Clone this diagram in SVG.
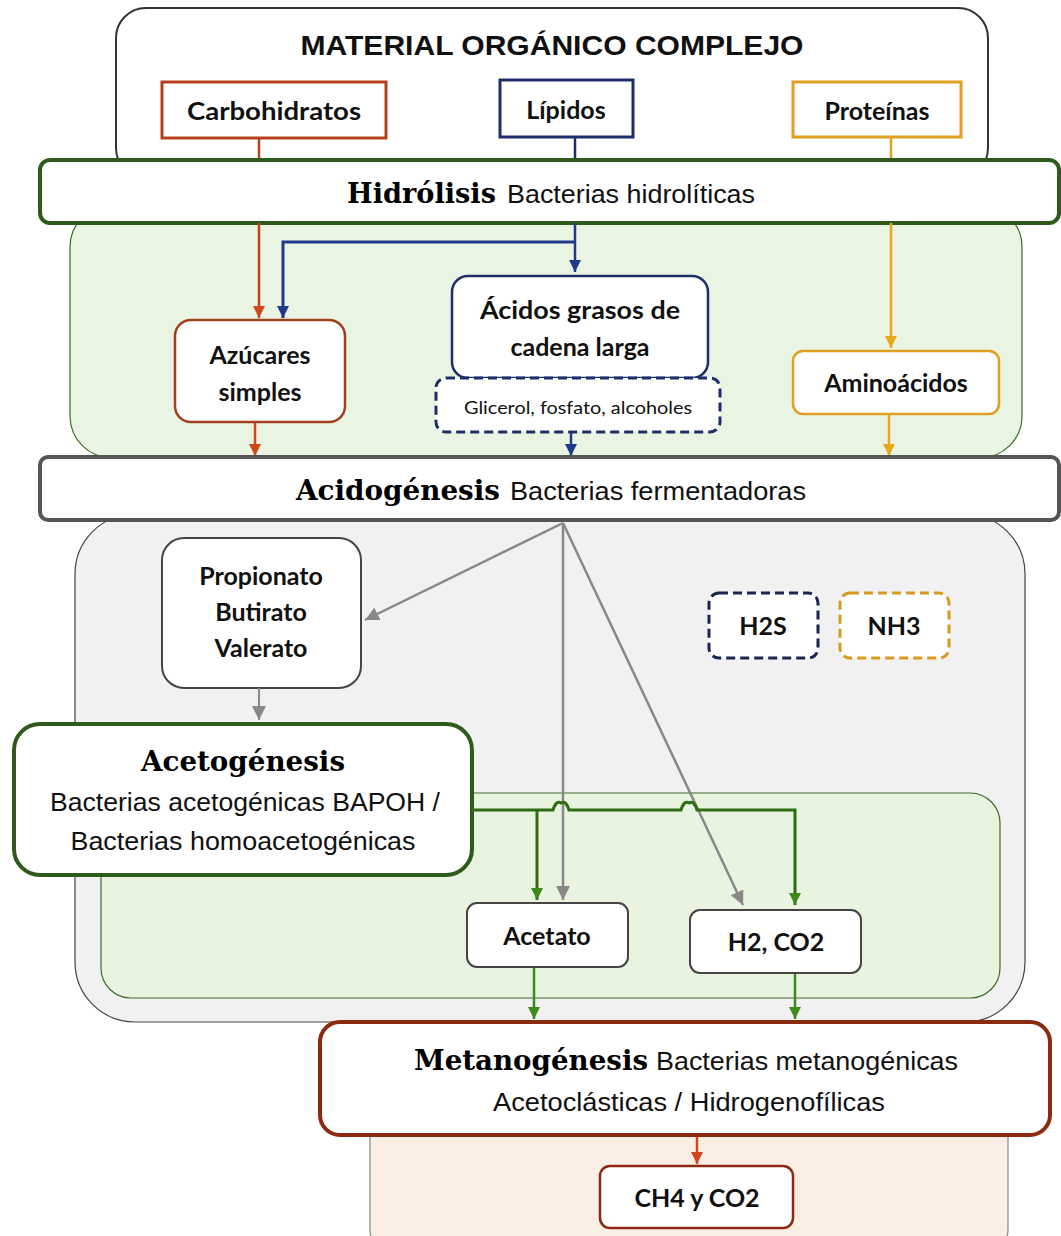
<svg xmlns="http://www.w3.org/2000/svg" width="1061" height="1236" viewBox="0 0 1061 1236">
<style>
.t{font-family:Lato,"Liberation Sans",sans-serif;font-weight:bold;fill:#111;text-anchor:middle}
.c{font-family:"Liberation Sans",sans-serif;fill:#111}
.b{font-family:"DejaVu Serif","Liberation Serif",serif;font-weight:bold;fill:#000}
.box{fill:#fff}
.ln{fill:none;stroke-width:2.5}
</style>
<defs>
<marker id="aR" markerUnits="userSpaceOnUse" markerWidth="14" markerHeight="14" refX="12" refY="6" orient="auto"><path d="M0,0 L12,6 L0,12 z" fill="#d0481a"/></marker>
<marker id="aN" markerUnits="userSpaceOnUse" markerWidth="14" markerHeight="14" refX="12" refY="6" orient="auto"><path d="M0,0 L12,6 L0,12 z" fill="#1f3a8a"/></marker>
<marker id="aO" markerUnits="userSpaceOnUse" markerWidth="14" markerHeight="14" refX="12" refY="6" orient="auto"><path d="M0,0 L12,6 L0,12 z" fill="#e8a818"/></marker>
<marker id="aG" markerUnits="userSpaceOnUse" markerWidth="16" markerHeight="16" refX="14" refY="7" orient="auto"><path d="M0,0 L14,7 L0,14 z" fill="#888"/></marker>
<marker id="aV" markerUnits="userSpaceOnUse" markerWidth="14" markerHeight="14" refX="12" refY="6" orient="auto"><path d="M0,0 L12,6 L0,12 z" fill="#3c8a1c"/></marker>
</defs>

<g id="region-hidrolisis">
<rect x="70" y="205" width="952" height="253" rx="42" fill="#eaf4e2" stroke="#3f6b2a" stroke-width="1.2"/>
</g>
<g id="region-acidogenesis">
<rect x="75" y="514" width="950" height="508" rx="60" fill="#f1f1f1" stroke="#444" stroke-width="1.2"/>
</g>
<g id="region-acetogenesis">
<rect x="101" y="793" width="899" height="205" rx="30" fill="#e9f4e0" stroke="#3f6b2a" stroke-width="1.2"/>
</g>
<g id="region-metanogenesis">
<rect x="370" y="1100" width="638" height="150" rx="20" fill="#fbeee4" stroke="#888" stroke-width="1.2"/>
</g>

<g id="material">
<rect x="116" y="8" width="872" height="170" rx="30" class="box" stroke="#333" stroke-width="2"/>
<text x="552" y="55" class="c" font-size="28" font-weight="bold" text-anchor="middle" textLength="503" lengthAdjust="spacingAndGlyphs">MATERIAL ORGÁNICO COMPLEJO</text>
</g>

<g id="connectors">
<line x1="259" y1="138" x2="259" y2="162" stroke="#b5401c" class="ln"/>
<line x1="575" y1="137" x2="575" y2="162" stroke="#1f2e6b" class="ln"/>
<line x1="891" y1="138" x2="891" y2="162" stroke="#e0a020" class="ln"/>
</g>

<g id="carbohidratos">
<rect x="162" y="82" width="224" height="56" class="box" stroke="#b5401c" stroke-width="3"/>
<text x="274" y="120" class="t" font-size="25" textLength="174" lengthAdjust="spacingAndGlyphs">Carbohidratos</text>
</g>
<g id="lipidos">
<rect x="500" y="80" width="133" height="57" class="box" stroke="#1f2e6b" stroke-width="3"/>
<text x="566" y="119" class="t" font-size="25">Lípidos</text>
</g>
<g id="proteinas">
<rect x="793" y="82" width="168" height="55" class="box" stroke="#e0a020" stroke-width="3"/>
<text x="877" y="120" class="t" font-size="25">Proteínas</text>
</g>

<g id="hidrolisis">
<rect x="40" y="160" width="1019" height="63" rx="10" class="box" stroke="#2e5a1c" stroke-width="4"/>
<text x="347" y="203" class="b" font-size="27" textLength="149" lengthAdjust="spacingAndGlyphs">Hidrólisis</text>
<text x="507" y="203" class="c" font-size="26" textLength="248" lengthAdjust="spacingAndGlyphs">Bacterias hidrolíticas</text>
</g>

<g id="connectors-2">
<line x1="259" y1="223" x2="259" y2="318" stroke="#c0401a" class="ln" marker-end="url(#aR)"/>
<line x1="575" y1="223" x2="575" y2="272" stroke="#1f3a8a" class="ln" marker-end="url(#aN)"/>
<polyline points="575,242 283,242 283,318" stroke="#1f3a8a" stroke-width="3" fill="none" marker-end="url(#aN)"/>
<line x1="891" y1="223" x2="891" y2="348" stroke="#e8a818" class="ln" marker-end="url(#aO)"/>
<line x1="255" y1="422" x2="255" y2="456" stroke="#d0481a" class="ln" marker-end="url(#aR)"/>
<line x1="571" y1="432" x2="571" y2="456" stroke="#1f3a8a" class="ln" marker-end="url(#aN)"/>
<line x1="889" y1="414" x2="889" y2="456" stroke="#e8a818" class="ln" marker-end="url(#aO)"/>
</g>

<g id="azucares">
<rect x="175" y="320" width="170" height="102" rx="16" class="box" stroke="#a0401c" stroke-width="2.5"/>
<text x="260" y="364" class="t" font-size="25">Azúcares</text>
<text x="260" y="401" class="t" font-size="25">simples</text>
</g>
<g id="acidos-grasos">
<rect x="452" y="276" width="256" height="102" rx="16" class="box" stroke="#1f2e6b" stroke-width="2.5"/>
<text x="580" y="319" class="t" font-size="25" textLength="200" lengthAdjust="spacingAndGlyphs">Ácidos grasos de</text>
<text x="580" y="356" class="t" font-size="25">cadena larga</text>
</g>
<g id="glicerol">
<rect x="436" y="378" width="284" height="54" rx="10" class="box" stroke="#1f2e6b" stroke-width="3" stroke-dasharray="9,5"/>
<text x="578" y="414" class="t" font-size="17" style="font-weight:normal" textLength="228" lengthAdjust="spacingAndGlyphs">Glicerol, fosfato, alcoholes</text>
</g>
<g id="aminoacidos">
<rect x="793" y="351" width="206" height="63" rx="10" class="box" stroke="#e0a020" stroke-width="2.5"/>
<text x="896" y="392" class="t" font-size="25">Aminoácidos</text>
</g>

<g id="acidogenesis">
<rect x="40" y="457" width="1019" height="63" rx="8" class="box" stroke="#555" stroke-width="4"/>
<text x="296" y="500" class="b" font-size="27" textLength="204" lengthAdjust="spacingAndGlyphs">Acidogénesis</text>
<text x="510" y="500" class="c" font-size="26" textLength="296" lengthAdjust="spacingAndGlyphs">Bacterias fermentadoras</text>
</g>

<g id="propionato">
<rect x="162" y="538" width="199" height="150" rx="22" class="box" stroke="#444" stroke-width="2"/>
<text x="261" y="585" class="t" font-size="25">Propionato</text>
<text x="261" y="621" class="t" font-size="25">Butirato</text>
<text x="261" y="657" class="t" font-size="25">Valerato</text>
</g>
<g id="h2s">
<rect x="709" y="593" width="109" height="65" rx="10" class="box" stroke="#1a2550" stroke-width="3" stroke-dasharray="9,5"/>
<text x="763" y="635" class="t" font-size="25">H2S</text>
</g>
<g id="nh3">
<rect x="840" y="593" width="109" height="65" rx="10" class="box" stroke="#d89a20" stroke-width="3" stroke-dasharray="9,5"/>
<text x="894" y="635" class="t" font-size="25">NH3</text>
</g>

<g id="acetogenesis">
<rect x="14" y="724" width="458" height="151" rx="26" class="box" stroke="#2e5a1c" stroke-width="4"/>
<text x="243" y="771" class="b" font-size="27" text-anchor="middle" textLength="204" lengthAdjust="spacingAndGlyphs">Acetogénesis</text>
<text x="245" y="811" class="c" font-size="26" text-anchor="middle" textLength="390" lengthAdjust="spacingAndGlyphs">Bacterias acetogénicas BAPOH /</text>
<text x="243" y="850" class="c" font-size="26" text-anchor="middle" textLength="345" lengthAdjust="spacingAndGlyphs">Bacterias homoacetogénicas</text>
</g>

<g id="connectors-3">
<line x1="259" y1="688" x2="259" y2="720" stroke="#888" stroke-width="2" marker-end="url(#aG)"/>
<line x1="563" y1="523" x2="365" y2="620" stroke="#888" stroke-width="2.5" marker-end="url(#aG)"/>
<line x1="563" y1="523" x2="563" y2="900" stroke="#888" stroke-width="2.5" marker-end="url(#aG)"/>
<line x1="563" y1="523" x2="743" y2="905" stroke="#888" stroke-width="2.5" marker-end="url(#aG)"/>
<path d="M472,810 L553,810 Q556,800 561,803 Q566,800 569,810 L681,810 Q684,800 689,803 Q694,800 697,810 L795,810 L795,905" stroke="#2e6b12" stroke-width="3" fill="none" marker-end="url(#aV)"/>
<line x1="537" y1="810" x2="537" y2="900" stroke="#2e6b12" stroke-width="3" marker-end="url(#aV)"/>
<line x1="534" y1="967" x2="534" y2="1019" stroke="#3c8a1c" stroke-width="2.5" marker-end="url(#aV)"/>
<line x1="795" y1="973" x2="795" y2="1019" stroke="#3c8a1c" stroke-width="2.5" marker-end="url(#aV)"/>
<line x1="697" y1="1135" x2="697" y2="1164" stroke="#d0481a" stroke-width="2.5" marker-end="url(#aR)"/>
</g>

<g id="acetato">
<rect x="467" y="903" width="161" height="64" rx="10" class="box" stroke="#444" stroke-width="2"/>
<text x="547" y="945" class="t" font-size="25">Acetato</text>
</g>
<g id="h2co2">
<rect x="690" y="910" width="171" height="63" rx="10" class="box" stroke="#444" stroke-width="2"/>
<text x="776" y="951" class="t" font-size="25">H2, CO2</text>
</g>

<g id="metanogenesis">
<rect x="320" y="1022" width="730" height="113" rx="20" class="box" stroke="#8b2a10" stroke-width="4"/>
<text x="414" y="1070" class="b" font-size="27" textLength="234" lengthAdjust="spacingAndGlyphs">Metanogénesis</text>
<text x="656" y="1070" class="c" font-size="26" textLength="302" lengthAdjust="spacingAndGlyphs">Bacterias metanogénicas</text>
<text x="689" y="1111" class="c" font-size="26" text-anchor="middle" textLength="392" lengthAdjust="spacingAndGlyphs">Acetoclásticas / Hidrogenofílicas</text>
</g>

<g id="ch4">
<rect x="600" y="1166" width="193" height="62" rx="10" class="box" stroke="#8b2a10" stroke-width="2.5"/>
<text x="697" y="1207" class="t" font-size="25">CH4 y CO2</text>
</g>
</svg>
